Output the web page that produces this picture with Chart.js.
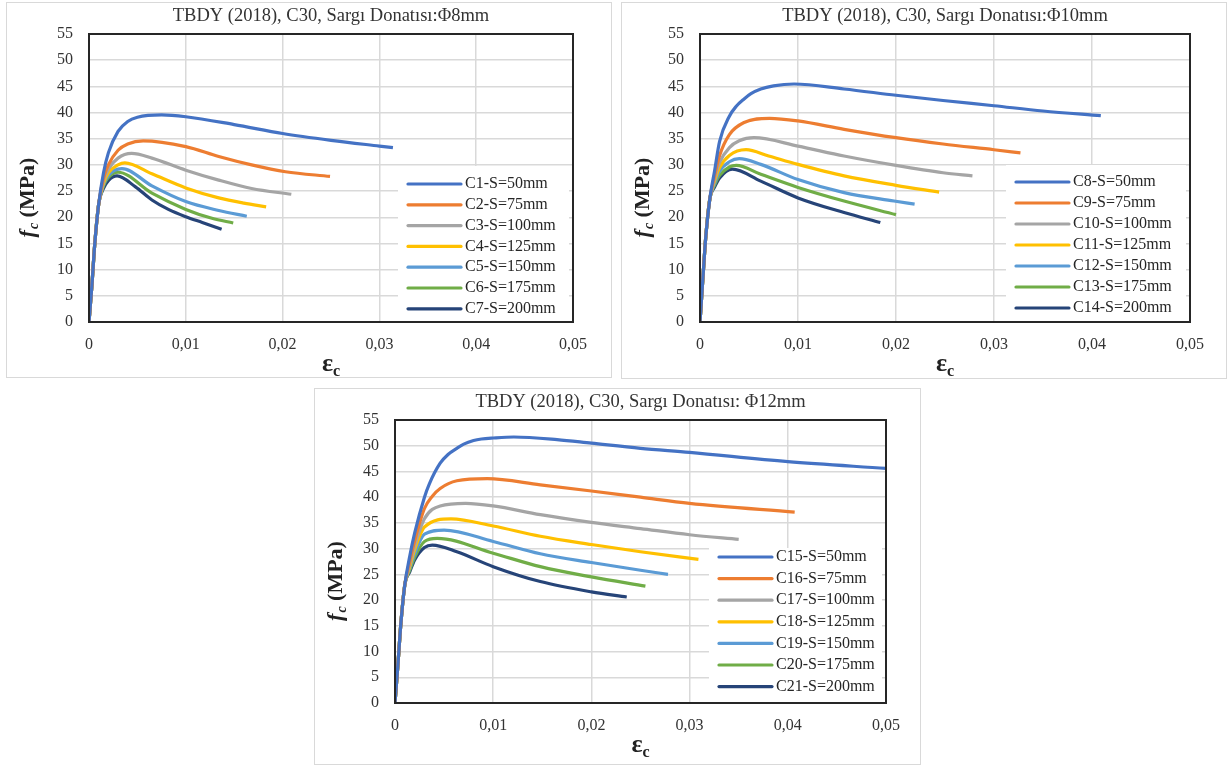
<!DOCTYPE html>
<html>
<head>
<meta charset="utf-8">
<script src="https://cdn.jsdelivr.net/npm/chart.js@4.4.1/dist/chart.umd.min.js"></script>
<style>
  body { margin: 0; background: #fff; }
  .box { position: absolute; border: 1px solid #d9d9d9; box-sizing: border-box; }
  canvas { position: absolute; }
</style>
</head>
<body>
<div class="box" style="left:6px;top:2px;width:606px;height:376px"></div>
<div class="box" style="left:621px;top:2px;width:606px;height:377px"></div>
<div class="box" style="left:314px;top:388px;width:607px;height:377px"></div>
<canvas id="chart8" width="604" height="374" style="left:7px;top:3px"></canvas>
<canvas id="chart10" width="604" height="375" style="left:622px;top:3px"></canvas>
<canvas id="chart12" width="605" height="375" style="left:315px;top:389px"></canvas>
<script>
const colors = ['#4472C4', '#ED7D31', '#A5A5A5', '#FFC000', '#5B9BD5', '#70AD47', '#264478'];
const serif = '"Liberation Serif", "Times New Roman", serif';

// -----------------------
// Φ8mm
// -----------------------
const labels8 = ['C1-S=50mm', 'C2-S=75mm', 'C3-S=100mm', 'C4-S=125mm', 'C5-S=150mm', 'C6-S=175mm', 'C7-S=200mm'];
const c1X = [0, 0.0003, 0.0006, 0.001, 0.0015, 0.002, 0.003, 0.004, 0.005, 0.0075, 0.01, 0.015, 0.02, 0.025, 0.03, 0.0314];
const c1Y = [0, 7, 15, 22.5, 28.5, 32.3, 36.4, 38.3, 39.1, 39.55, 39.2, 37.7, 36.0, 34.7, 33.6, 33.3];
const c2X = [0, 0.0003, 0.0006, 0.001, 0.0015, 0.002, 0.003, 0.004, 0.0056, 0.01, 0.0134, 0.0168, 0.0203, 0.0249];
const c2Y = [0, 7, 15, 22.5, 27.5, 30.0, 32.8, 34.0, 34.6, 33.5, 31.6, 30.0, 28.7, 27.8];
const c3X = [0, 0.0003, 0.0006, 0.001, 0.0015, 0.002, 0.003, 0.0044, 0.0065, 0.01, 0.0134, 0.0168, 0.0209];
const c3Y = [0, 7, 15, 22.5, 27, 29.2, 31.3, 32.2, 31.3, 29.0, 27.1, 25.5, 24.4];
const c4X = [0, 0.0003, 0.0006, 0.001, 0.0015, 0.002, 0.003, 0.0037, 0.0065, 0.01, 0.0134, 0.016, 0.0183];
const c4Y = [0, 7, 15, 22.5, 26.5, 28.5, 30.0, 30.4, 28.3, 25.6, 23.7, 22.7, 22.0];
const c5X = [0, 0.0003, 0.0006, 0.001, 0.0015, 0.002, 0.0034, 0.0065, 0.01, 0.0134, 0.0163];
const c5Y = [0, 7, 15, 22.5, 26.2, 28.0, 29.3, 26.0, 23.0, 21.3, 20.2];
const c6X = [0, 0.0003, 0.0006, 0.001, 0.0015, 0.002, 0.003, 0.0065, 0.01, 0.0127, 0.0149];
const c6Y = [0, 7, 15, 22.5, 26, 27.6, 28.6, 24.6, 21.5, 19.8, 18.9];
const c7X = [0, 0.0003, 0.0006, 0.001, 0.0015, 0.002, 0.0029, 0.0048, 0.0065, 0.0082, 0.01, 0.0117, 0.0137];
const c7Y = [0, 7, 15, 22.5, 25.5, 27.0, 27.9, 25.8, 23.3, 21.5, 20.1, 19.0, 17.7];

// -----------------------
// Φ10mm
// -----------------------
const labels10 = ['C8-S=50mm', 'C9-S=75mm', 'C10-S=100mm', 'C11-S=125mm', 'C12-S=150mm', 'C13-S=175mm', 'C14-S=200mm'];
const c8X = [0, 0.0003, 0.0006, 0.001, 0.0015, 0.002, 0.003, 0.0037, 0.0045, 0.0052, 0.0062, 0.0075, 0.0096, 0.0147, 0.02, 0.0248, 0.03, 0.035, 0.0409];
const c8Y = [0, 8.5, 16.5, 23.5, 29, 34.5, 39.3, 41.2, 42.6, 43.6, 44.5, 45.1, 45.45, 44.5, 43.3, 42.3, 41.3, 40.3, 39.4];
const c9X = [0, 0.0003, 0.0006, 0.001, 0.0015, 0.002, 0.003, 0.0045, 0.0071, 0.01, 0.0147, 0.02, 0.0248, 0.03, 0.0327];
const c9Y = [0, 8.5, 16.5, 23.5, 28, 31.8, 35.8, 38.1, 38.9, 38.4, 36.8, 35.2, 34.0, 32.9, 32.3];
const c10X = [0, 0.0003, 0.0006, 0.001, 0.0015, 0.002, 0.003, 0.004, 0.0055, 0.01, 0.0147, 0.02, 0.0248, 0.0278];
const c10Y = [0, 8.5, 16.5, 23.5, 27.5, 30.5, 33.3, 34.6, 35.2, 33.6, 31.7, 29.9, 28.5, 27.9];
const c11X = [0, 0.0003, 0.0006, 0.001, 0.0015, 0.002, 0.003, 0.0047, 0.007, 0.01, 0.0147, 0.02, 0.0244];
const c11Y = [0, 8.5, 16.5, 23.5, 27, 29.5, 31.8, 32.9, 31.7, 30.1, 27.9, 26.1, 24.8];
const c12X = [0, 0.0003, 0.0006, 0.001, 0.0015, 0.002, 0.003, 0.004, 0.0062, 0.01, 0.0147, 0.0198, 0.0219];
const c12Y = [0, 8.5, 16.5, 23.5, 26.5, 28.8, 30.6, 31.2, 30.1, 27.2, 24.7, 23.1, 22.5];
const c13X = [0, 0.0003, 0.0006, 0.001, 0.0015, 0.002, 0.003, 0.0037, 0.0062, 0.01, 0.0147, 0.02];
const c13Y = [0, 8.5, 16.5, 23.5, 26.2, 28.0, 29.6, 29.9, 28.2, 25.7, 23.1, 20.5];
const c14X = [0, 0.0003, 0.0006, 0.001, 0.0015, 0.002, 0.0033, 0.0062, 0.01, 0.0147, 0.0184];
const c14Y = [0, 8.5, 16.5, 23.5, 25.8, 27.5, 29.2, 26.9, 23.7, 20.9, 19.0];

// -----------------------
// Φ12mm
// -----------------------
const labels12 = ['C15-S=50mm', 'C16-S=75mm', 'C17-S=100mm', 'C18-S=125mm', 'C19-S=150mm', 'C20-S=175mm', 'C21-S=200mm'];
const c15X = [0, 0.0003, 0.0006, 0.001, 0.0015, 0.002, 0.003, 0.0035, 0.0046, 0.0054, 0.0063, 0.007, 0.008, 0.0088, 0.01, 0.0121, 0.0165, 0.02, 0.025, 0.03, 0.04, 0.05];
const c15Y = [0, 7.5, 15.5, 23, 28.5, 33, 40, 42.6, 46.6, 48.3, 49.5, 50.3, 51.0, 51.3, 51.5, 51.7, 51.2, 50.5, 49.5, 48.7, 46.9, 45.6];
const c16X = [0, 0.0003, 0.0006, 0.001, 0.0015, 0.002, 0.003, 0.0038, 0.0046, 0.0063, 0.0094, 0.0148, 0.02, 0.025, 0.03, 0.0407];
const c16Y = [0, 7.5, 15.5, 23, 27.5, 31.5, 37.8, 40.2, 41.7, 43.2, 43.6, 42.4, 41.2, 40.0, 38.8, 37.1];
const c17X = [0, 0.0003, 0.0006, 0.001, 0.0015, 0.002, 0.003, 0.0046, 0.0072, 0.01, 0.0148, 0.02, 0.025, 0.03, 0.035];
const c17Y = [0, 7.5, 15.5, 23, 27, 30.5, 35.8, 38.3, 38.8, 38.3, 36.6, 35.1, 33.9, 32.7, 31.8];
const c18X = [0, 0.0003, 0.0006, 0.001, 0.0015, 0.002, 0.003, 0.0057, 0.01, 0.0148, 0.02, 0.025, 0.0309];
const c18Y = [0, 7.5, 15.5, 23, 26.5, 29.8, 34.2, 35.8, 34.4, 32.4, 30.8, 29.4, 27.9];
const c19X = [0, 0.0003, 0.0006, 0.001, 0.0015, 0.002, 0.003, 0.005, 0.01, 0.0148, 0.02, 0.025, 0.0278];
const c19Y = [0, 7.5, 15.5, 23, 26.2, 29.0, 32.8, 33.6, 31.4, 29.0, 27.3, 25.8, 25.0];
const c20X = [0, 0.0003, 0.0006, 0.001, 0.0015, 0.002, 0.003, 0.0043, 0.01, 0.0148, 0.02, 0.0255];
const c20Y = [0, 7.5, 15.5, 23, 25.8, 28.3, 31.4, 32.0, 29.1, 26.5, 24.5, 22.7];
const c21X = [0, 0.0003, 0.0006, 0.001, 0.0015, 0.002, 0.003, 0.0038, 0.0063, 0.01, 0.0148, 0.02, 0.0236];
const c21Y = [0, 7.5, 15.5, 23, 25.5, 27.8, 30.2, 30.7, 29.4, 26.5, 23.6, 21.6, 20.6];

const xTicks = ['0', '0,01', '0,02', '0,03', '0,04', '0,05'];

function toPoints(xs, ys) {
  return xs.map((x, i) => ({ x: x, y: ys[i] }));
}

// legend inside the plot, frame and titles
const decorations = {
  id: 'decorations',
  afterDatasetsDraw(chart, args, opts) {
    const { ctx, chartArea: a } = chart;
    ctx.save();
    ctx.fillStyle = '#fff';
    const bx = a.left + opts.boxLeft;
    const by = a.top + opts.boxTop;
    ctx.fillRect(bx, by, a.right - 4 - bx, a.bottom - by);
    chart.data.datasets.forEach((ds, i) => {
      const y = a.top + opts.firstRow + i * opts.rowGap;
      ctx.strokeStyle = ds.borderColor;
      ctx.lineWidth = 3.2;
      ctx.lineCap = 'round';
      ctx.beginPath();
      ctx.moveTo(bx + 10, y);
      ctx.lineTo(bx + 63, y);
      ctx.stroke();
      ctx.fillStyle = '#262626';
      ctx.font = '16px ' + serif;
      ctx.textBaseline = 'middle';
      ctx.fillText(ds.label, bx + 67, y);
    });
    ctx.strokeStyle = '#262626';
    ctx.lineWidth = 2;
    ctx.strokeRect(a.left, a.top, a.right - a.left, a.bottom - a.top);
    ctx.restore();
  },
  afterDraw(chart, args, opts) {
    const { ctx, chartArea: a } = chart;
    const cx = (a.left + a.right) / 2;
    ctx.save();
    ctx.fillStyle = '#333';
    ctx.textBaseline = 'middle';
    ctx.textAlign = 'center';
    ctx.font = '18.5px ' + serif;
    ctx.fillText(opts.title, cx, a.top - 18);

    // x title: εc
    ctx.fillStyle = '#222';
    ctx.textAlign = 'left';
    ctx.font = 'bold 26px ' + serif;
    const wE = ctx.measureText('ε').width;
    ctx.font = 'bold 16px ' + serif;
    const wC = ctx.measureText('c').width;
    let x0 = cx - (wE + wC) / 2;
    ctx.font = 'bold 26px ' + serif;
    ctx.fillText('ε', x0, a.bottom + 42);
    ctx.font = 'bold 16px ' + serif;
    ctx.fillText('c', x0 + wE, a.bottom + 50);

    // y title: fc (MPa)
    ctx.translate(21, (a.top + a.bottom) / 2 + 20);
    ctx.rotate(-Math.PI / 2);
    ctx.font = 'italic bold 22px ' + serif;
    const wF = ctx.measureText('f').width;
    ctx.font = 'italic bold 14px ' + serif;
    const wS = ctx.measureText('c').width;
    ctx.font = 'bold 22px ' + serif;
    const wM = ctx.measureText(' (MPa)').width;
    x0 = -(wF + wS + wM) / 2;
    ctx.font = 'italic bold 22px ' + serif;
    ctx.fillText('f', x0, 0);
    ctx.font = 'italic bold 14px ' + serif;
    ctx.fillText('c', x0 + wF + 1, 6);
    ctx.font = 'bold 22px ' + serif;
    ctx.fillText(' (MPa)', x0 + wF + wS + 1, 0);
    ctx.restore();
  }
};

function makeChart(id, labels, series, layout) {
  const ctx = document.getElementById(id).getContext('2d');
  return new Chart(ctx, {
    type: 'scatter',
    data: {
      datasets: series.map((s, i) => ({
        label: labels[i],
        data: toPoints(s[0], s[1]),
        borderColor: colors[i],
        backgroundColor: colors[i],
        borderWidth: 3.2,
        showLine: true,
        pointRadius: 0,
        cubicInterpolationMode: 'monotone',
        fill: false
      }))
    },
    options: {
      responsive: false,
      animation: false,
      layout: { padding: { top: layout.top, right: layout.right, left: 0, bottom: 0 } },
      scales: {
        x: {
          type: 'linear',
          min: 0,
          max: 0.05,
          afterFit: (scale) => { scale.height = layout.xHeight; },
          afterBuildTicks: (scale) => {
            scale.ticks = xTicks.map((t, i) => ({ value: i * 0.01 }));
          },
          ticks: {
            callback: (v, i) => xTicks[i],
            color: '#333',
            font: { family: serif, size: 16 },
            padding: 13,
            maxRotation: 0
          },
          grid: { color: '#d9d9d9', lineWidth: 1.5, drawTicks: false },
          border: { display: false }
        },
        y: {
          min: 0,
          max: 55,
          afterFit: (scale) => { scale.width = layout.yWidth; },
          ticks: {
            stepSize: 5,
            color: '#333',
            font: { family: serif, size: 16 },
            padding: 16
          },
          grid: { color: '#d9d9d9', lineWidth: 1.5, drawTicks: false },
          border: { display: false }
        }
      },
      plugins: {
        legend: { display: false },
        tooltip: { enabled: false },
        decorations: {
          title: layout.title,
          boxLeft: layout.boxLeft,
          boxTop: layout.boxTop,
          firstRow: layout.firstRow,
          rowGap: layout.rowGap
        }
      }
    },
    plugins: [decorations]
  });
}

const chart8 = makeChart('chart8', labels8,
  [[c1X, c1Y], [c2X, c2Y], [c3X, c3Y], [c4X, c4Y], [c5X, c5Y], [c6X, c6Y], [c7X, c7Y]],
  { title: 'TBDY (2018), C30, Sargı Donatısı:Φ8mm', top: 31, right: 38, xHeight: 55, yWidth: 82,
    boxLeft: 309, boxTop: 132, firstRow: 150, rowGap: 20.8 });

const chart10 = makeChart('chart10', labels10,
  [[c8X, c8Y], [c9X, c9Y], [c10X, c10Y], [c11X, c11Y], [c12X, c12Y], [c13X, c13Y], [c14X, c14Y]],
  { title: 'TBDY (2018), C30, Sargı Donatısı:Φ10mm', top: 31, right: 36, xHeight: 56, yWidth: 78,
    boxLeft: 306, boxTop: 131, firstRow: 148, rowGap: 21 });

const chart12 = makeChart('chart12', labels12,
  [[c15X, c15Y], [c16X, c16Y], [c17X, c17Y], [c18X, c18Y], [c19X, c19Y], [c20X, c20Y], [c21X, c21Y]],
  { title: 'TBDY (2018), C30, Sargı Donatısı: Φ12mm', top: 31, right: 34, xHeight: 61, yWidth: 80,
    boxLeft: 314, boxTop: 128, firstRow: 137, rowGap: 21.6 });
</script>
</body>
</html>
